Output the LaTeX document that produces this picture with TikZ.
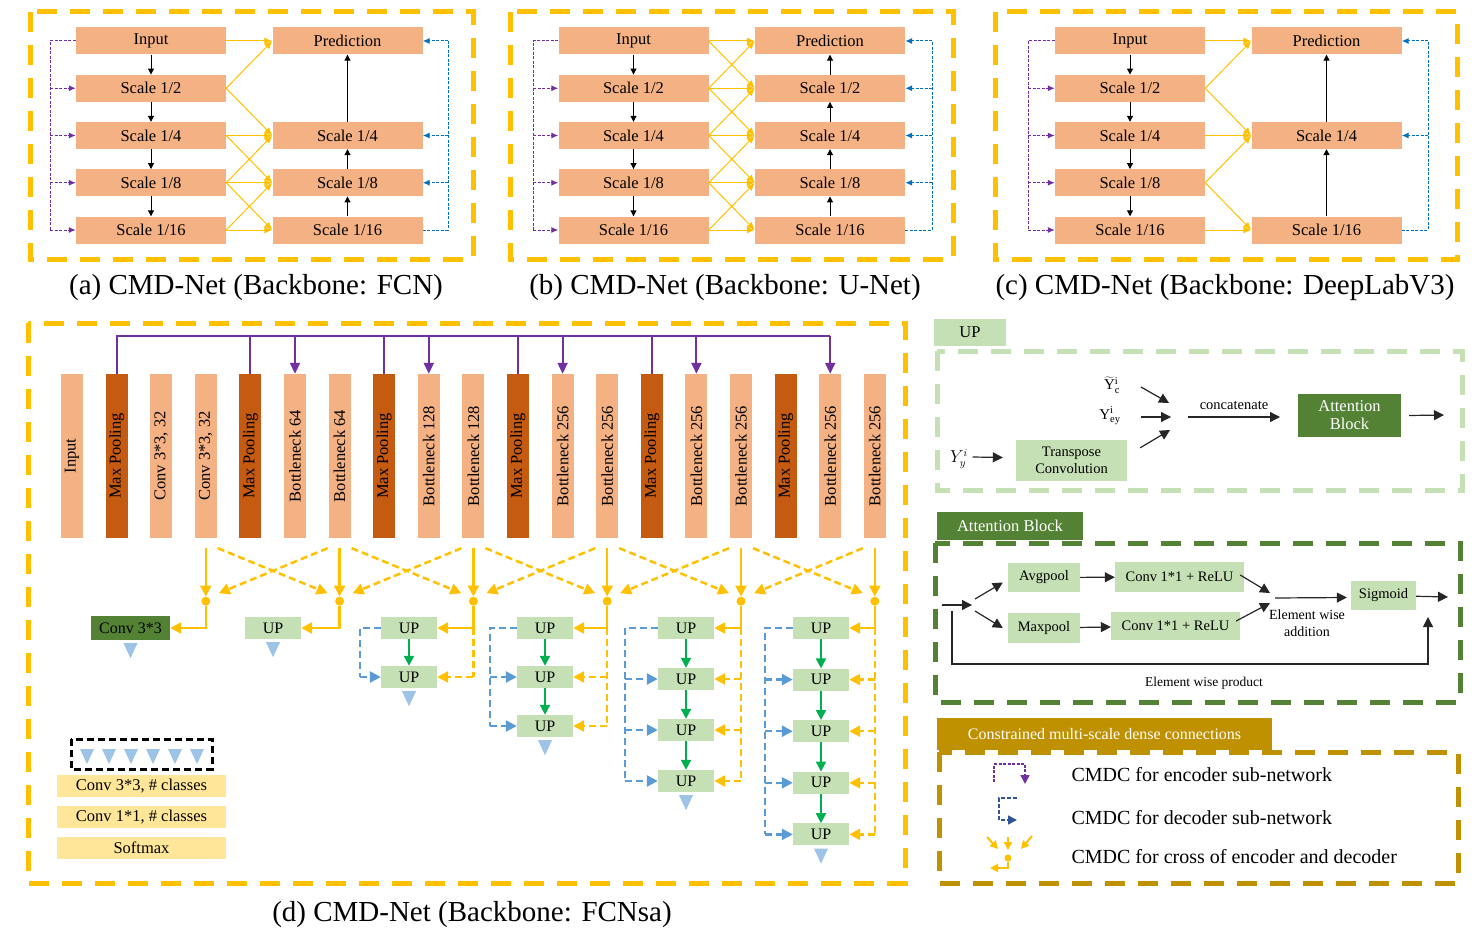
\documentclass[tikz,border=0pt]{standalone}
\usepackage{fontspec}
\setmainfont{Liberation Serif}
\usepackage{graphicx}
\usetikzlibrary{arrows.meta,calc}

\definecolor{orgL}{HTML}{F4B183}
\definecolor{orgD}{HTML}{C55A11}
\definecolor{ylw}{HTML}{FFC000}
\definecolor{purp}{HTML}{7030A0}
\definecolor{bluA}{HTML}{0070C0}
\definecolor{bluD}{HTML}{5B9BD5}
\definecolor{grnL}{HTML}{C5E0B4}
\definecolor{grnD}{HTML}{548235}
\definecolor{grnA}{HTML}{00B050}
\definecolor{triB}{HTML}{9DC3E6}
\definecolor{legY}{HTML}{FFE699}
\definecolor{gold}{HTML}{BF9000}
\definecolor{navy}{HTML}{2F5597}

\tikzset{
  bord/.style={line width=5pt,dash pattern=on 20pt off 13pt},
  sbox/.style={fill=orgL,minimum width=150pt,minimum height=27pt,inner sep=0pt,font=\fontsize{16.5}{19}\selectfont},
  blkarr/.style={line width=1pt,-{Triangle[length=6pt,width=6pt]}},
  ythin/.style={ylw,line width=1pt,-{Latex[length=8pt,width=7pt]}},
  pdash/.style={purp,line width=1pt,dash pattern=on 3pt off 1.5pt},
  bdash/.style={bluA,line width=1pt,dash pattern=on 3pt off 1.5pt},
  captext/.style={font=\fontsize{29}{32}\selectfont},
  bar/.style={minimum width=22pt,minimum height=164pt,inner sep=0pt,font=\fontsize{16.5}{19}\selectfont},
  ysolid/.style={ylw,line width=2.5pt,-{Triangle[length=11pt,width=11pt]}},
  ydash/.style={ylw,line width=2.5pt,dash pattern=on 7pt off 4pt,-{Triangle[length=11pt,width=11pt]}},
  yline/.style={ylw,line width=2.5pt,dash pattern=on 7pt off 4pt},
  ydot/.style={circle,fill=ylw,minimum size=9pt,inner sep=0pt},
  bdashd/.style={bluD,line width=2.5pt,dash pattern=on 7pt off 4pt},
  barr/.style={bluD,line width=2.5pt,dash pattern=on 7pt off 4pt,-{Triangle[length=11pt,width=11pt]}},
  garr/.style={grnA,line width=2pt,-{Triangle[length=10pt,width=10pt]}},
  upbox/.style={fill=grnL,minimum width=56pt,minimum height=22pt,inner sep=0pt,font=\fontsize{16}{18}\selectfont},
  legbox/.style={fill=legY,minimum width=169pt,minimum height=22pt,inner sep=0pt,font=\fontsize{16.5}{18}\selectfont},
  rarr/.style={line width=1.2pt,black!85,-{Triangle[length=10pt,width=10pt]}},
  gbox/.style={fill=grnL,inner sep=0pt,font=\fontsize{14.5}{17}\selectfont},
  ylab/.style={inner sep=0.5pt,font=\fontsize{15}{18}\selectfont},
}

% one CMD-Net panel: prefix, x left, x right, x purple, x blue, right boxes, up pairs
\newcommand{\cmdpanel}[7]{%
  \foreach \i/\lab in {0/Input,1/{Scale 1/2},2/{Scale 1/4},3/{Scale 1/8},4/{Scale 1/16}}
    \node[sbox] (#1l\i) at (#2,41+47.25*\i) {\lab};
  \foreach \i/\lab in {#6}
    \node[sbox] (#1r\i) at (#3,41+47.25*\i) {\lab};
  \foreach \i [evaluate=\i as \j using int(\i+1)] in {0,...,3}
    \draw[blkarr] (#1l\i) -- (#1l\j);
  \foreach \a/\b in {#7}
    \draw[blkarr] (#1r\a) -- (#1r\b);
  \foreach \i/\lab in {#6}{
    \foreach \d in {-1,0,1}{
      \pgfmathtruncatemacro\src{\i+\d}
      \ifnum\src>-1 \ifnum\src<5
        \draw[ythin] (#1l\src.east) -- (#1r\i.west);
      \fi\fi
    }
  }
  \coordinate (#1pt) at (#4,41);
  \draw[pdash] (#1l0.west) -- (#1pt) -- (#1pt |- #1l4.west);
  \foreach \i in {1,...,4}
    \draw[pdash,-{Latex[length=7pt,width=6pt]}] (#1pt |- #1l\i.west) -- (#1l\i.west);
  \coordinate (#1bt) at (#5,41);
  \draw[bdash] (#1r4.east) -- (#1bt |- #1r4.east) -- (#1bt);
  \foreach \i/\lab in {#6}{
    \ifnum\i<4 \draw[bdash,-{Latex[length=7pt,width=6pt]}] (#1bt |- #1r\i.east) -- (#1r\i.east); \fi
  }
}

\begin{document}
\begin{tikzpicture}[x=1pt,y=-1pt]
\useasboundingbox (0,0) rectangle (1479,936);

%%%%% (a) (b) (c) %%%%%
\draw[ylw,bord] (30,12) rectangle (473,259);
\cmdpanel{a}{151}{347.5}{50}{448}{0/Prediction,2/{Scale 1/4},3/{Scale 1/8},4/{Scale 1/16}}{4/3,3/2,2/0}
\node[captext] at (256,288) {(a) CMD-Net (Backbone: FCN)};

\draw[ylw,bord] (510,12) rectangle (953,259);
\cmdpanel{b}{633.5}{830}{533}{932}{0/Prediction,1/{Scale 1/2},2/{Scale 1/4},3/{Scale 1/8},4/{Scale 1/16}}{4/3,3/2,2/1,1/0}
\node[captext] at (725,288) {(b) CMD-Net (Backbone: U-Net)};

\draw[ylw,bord] (995,12) rectangle (1457,259);
\cmdpanel{c}{1130}{1326.5}{1028}{1428}{0/Prediction,2/{Scale 1/4},4/{Scale 1/16}}{4/2,2/0}
\node[captext] at (1225,288) {(c) CMD-Net (Backbone: DeepLabV3)};

%%%%% (d) %%%%%
\draw[ylw,bord] (28,323) rectangle (905,883);
\foreach \i/\lab/\col in {0/Input/orgL,1/Max Pooling/orgD,2/{Conv 3*3, 32}/orgL,3/{Conv 3*3, 32}/orgL,
    4/Max Pooling/orgD,5/Bottleneck 64/orgL,6/Bottleneck 64/orgL,7/Max Pooling/orgD,
    8/Bottleneck 128/orgL,9/Bottleneck 128/orgL,10/Max Pooling/orgD,11/Bottleneck 256/orgL,
    12/Bottleneck 256/orgL,13/Max Pooling/orgD,14/Bottleneck 256/orgL,15/Bottleneck 256/orgL,
    16/Max Pooling/orgD,17/Bottleneck 256/orgL,18/Bottleneck 256/orgL}
  \node[bar,fill=\col] (b\i) at (72+44.6*\i,456) {\rotatebox{90}{\lab}};

% encoder skips
\coordinate (pbus) at (0,336);
\draw[purp,line width=2pt] (b1.north) -- (b1.north |- pbus) -- (b17.north |- pbus);
\foreach \m in {4,7,10,13}
  \draw[purp,line width=2pt] (b\m.north) -- (b\m.north |- pbus);
\foreach \m in {5,8,11,14,17}
  \draw[purp,line width=2pt,-{Triangle[length=11pt,width=10pt]}] (b\m.north |- pbus) -- (b\m.north);

% decoder boxes
\node[upbox,fill=grnD,minimum width=79pt,minimum height=24pt] (u0-1) at (130.5,628) {Conv 3*3};
\foreach \k/\x/\n/\dy in {1/273/1/0,2/409/2/49,3/545/3/49,4/686/4/51,5/821/5/51.6}
  \foreach \m in {1,...,\n}
    \node[upbox] (u\k-\m) at (\x,628+\dy*\m-\dy) {UP};

% cross connections
\foreach \s [count=\k from 0] in {3,6,9,12,15,18}{
  \node[ydot] (j\k) at ($(b\s.south)+(0,63)$) {};
  \draw[ysolid] ($(b\s.south)+(0,10)$) -- (j\k.north);
  \draw[ysolid] (j\k) |- (u\k-1.east);
}
\foreach \s/\t [count=\k from 0] in {3/6,6/9,9/12,12/15,15/18}{
  \pgfmathtruncatemacro\kk{\k+1}
  \draw[ydash] ($(b\s.south)+(12,10)$) -- ($(j\kk)+(-12,-8)$);
  \draw[ydash] ($(b\t.south)+(-12,10)$) -- ($(j\k)+(13,-8)$);
}

% decoder skips
\foreach \k/\bx in {2/360,3/490,4/625,5/765}{
  \coordinate (bl\k) at (\bx,628);
  \draw[bdashd] (u\k-1.west) -- (bl\k) -- (bl\k |- u\k-\k.west);
  \draw[yline] (j\k |- u\k-1.east) -- (j\k |- u\k-\k.east);
  \foreach \m [evaluate=\m as \p using int(\m-1)] in {2,...,\k}{
    \draw[garr] (u\k-\p) -- (u\k-\m);
    \draw[barr] (bl\k |- u\k-\m.west) -- (u\k-\m.west);
    \draw[ydash] (j\k |- u\k-\m.east) -- (u\k-\m.east);
  }
}
\foreach \k/\n in {0/1,1/1,2/2,3/3,4/4,5/5}
  \fill[triB] ($(u\k-\n.south)+(-7,3)$) -- ($(u\k-\n.south)+(7,3)$) -- ($(u\k-\n.south)+(0,18)$) -- cycle;

% legend of (d)
\draw[line width=3pt,dash pattern=on 7pt off 4pt] (71,739) rectangle (212,769);
\foreach \x in {87,109,131,153,175,197}
  \fill[triB] (\x-7,749) -- (\x+7,749) -- (\x,764) -- cycle;
\node[legbox] (l1) at (141.5,786) {Conv 3*3, \# classes};
\node[legbox] (l2) at (141.5,817) {Conv 1*1, \# classes};
\node[legbox] (l3) at (141.5,848) {Softmax};
\node[captext] at (472,915) {(d) CMD-Net (Backbone: FCNsa)};

%%%%% UP %%%%%
\node[fill=grnL,minimum width=72pt,minimum height=27pt,font=\fontsize{16.5}{19}\selectfont] (uplab) at (970,332.5) {UP};
\draw[grnL,bord] (937,351) rectangle (1462,490);
\node[ylab] (yc) at (1112,385) {$\widetilde{\mathrm{Y}}^{\mathrm{i}}_{\mathrm{c}}$};
\node[ylab] (ye) at (1110,416) {$\mathrm{Y}^{\mathrm{i}}_{\mathrm{ey}}$};
\node[ylab,font=\fontsize{16}{18}\selectfont] (yy) at (959,459) {$Y^i_y$};
\node[gbox,minimum width=111pt,minimum height=41pt,align=center] (tc) at (1071.5,460.5) {Transpose\\Convolution};
\node[fill=grnD,text=white,minimum width=103pt,minimum height=43pt,inner sep=0pt,align=center,
  font=\fontsize{16.5}{18}\selectfont] (att) at (1349.5,415.5) {Attention\\Block};
\coordinate (cat1) at (1188,417);
\coordinate (cat2) at (1280,417);
\draw[rarr] (1141,387) -- (1169,403);
\draw[rarr] (1141,417) -- (1171,417);
\draw[rarr] ($(tc.north east)+(13,8)$) -- (1170,430);
\draw[rarr] ($(yy.east)+(4,-2)$) -- ($(tc.west)+(-13,-3)$);
\draw[rarr] (cat1) -- (cat2) node[midway,above=3pt,black,font=\fontsize{14.5}{17}\selectfont] {concatenate};
\draw[rarr] ($(att.east)+(8,0)$) -- (1444,415);

%%%%% Attention Block %%%%%
\node[fill=grnD,text=white,minimum width=146pt,minimum height=28pt,inner sep=0pt,
  font=\fontsize{16.5}{19}\selectfont] (attlab) at (1010,526) {Attention Block};
\draw[grnD,bord] (935,543) rectangle (1460,702);
\node[gbox,minimum width=72pt,minimum height=29pt] (avg) at (1044,577.5) {Avgpool};
\node[gbox,minimum width=72pt,minimum height=30pt] (mxp) at (1044,628) {Maxpool};
\node[gbox,minimum width=129pt,minimum height=30pt] (c1) at (1179.5,577) {Conv 1*1 + ReLU};
\node[gbox,minimum width=129pt,minimum height=28pt] (c2) at (1175.5,626) {Conv 1*1 + ReLU};
\node[gbox,minimum width=65pt,minimum height=29pt] (sig) at (1383.5,595.5) {Sigmoid};
\coordinate (ain) at (972,605);
\coordinate (esum) at (1272,598);
\draw[rarr] (942,605) -- (ain);
\draw[rarr] (975,599) -- ($(avg.west)+(-5,5)$);
\draw[rarr] (975,611) -- ($(mxp.west)+(-5,0)$);
\draw[rarr] (avg) -- (c1);
\draw[rarr] (mxp) -- (c2);
\draw[rarr] ($(c1.east)+(-4,-2)$) -- ($(esum)+(-2,-5)$);
\draw[rarr] ($(c2.east)+(-4,-5)$) -- ($(esum)+(-2,5)$);
\draw[rarr] ($(esum)+(3,0)$) -- ($(sig.west)+(-4,2)$);
\draw[rarr] (sig) -- (1448,597);
\draw[rarr] (952,611) -- (952,664) -- (1428,664) -- (1428,617);
\node[align=center,font=\fontsize{14}{17}\selectfont] (ewa) at (1307,623.5) {Element wise\\addition};
\node[font=\fontsize{13.5}{16}\selectfont] (ewp) at (1204,683) {Element wise product};

%%%%% CMDC legend %%%%%
\node[fill=gold,text=white,minimum width=335pt,minimum height=32pt,inner sep=0pt,
  font=\fontsize{16}{19}\selectfont] (cmlab) at (1104.5,734) {Constrained multi-scale dense connections};
\draw[gold,bord] (939,752) rectangle (1458,883);
\draw[pdash,line width=1.5pt,-{Triangle[length=9pt,width=9pt]}] (994,782) -- (994,764) -- (1025,764) -- (1025,784);
\draw[navy,line width=1.5pt,dash pattern=on 4pt off 2pt,-{Triangle[length=9pt,width=9pt]}] (1017,798) -- (999,798) -- (999,820) -- (1017,820);
\draw[ylw,line width=2pt,-{Triangle[length=8pt,width=8pt]}] (987,837) -- (998,849);
\draw[ylw,line width=2pt,-{Triangle[length=8pt,width=8pt]}] (1008,837) -- (1008,850);
\draw[ylw,line width=2pt,-{Triangle[length=8pt,width=8pt]}] (1032,836) -- (1021,849);
\node[ydot,minimum size=7pt] (ldot) at (1008,858) {};
\draw[ylw,line width=2pt,-{Triangle[length=8pt,width=8pt]}] (ldot) |- (990,868);
\node[anchor=west,font=\fontsize{20}{23}\selectfont] (t1) at (1068,775) {CMDC for encoder sub-network};
\node[anchor=west,font=\fontsize{20}{23}\selectfont] (t2) at (1068,818) {CMDC for decoder sub-network};
\node[anchor=west,font=\fontsize{20}{23}\selectfont] (t3) at (1068,857) {CMDC for cross of encoder and decoder};
\end{tikzpicture}
\end{document}
